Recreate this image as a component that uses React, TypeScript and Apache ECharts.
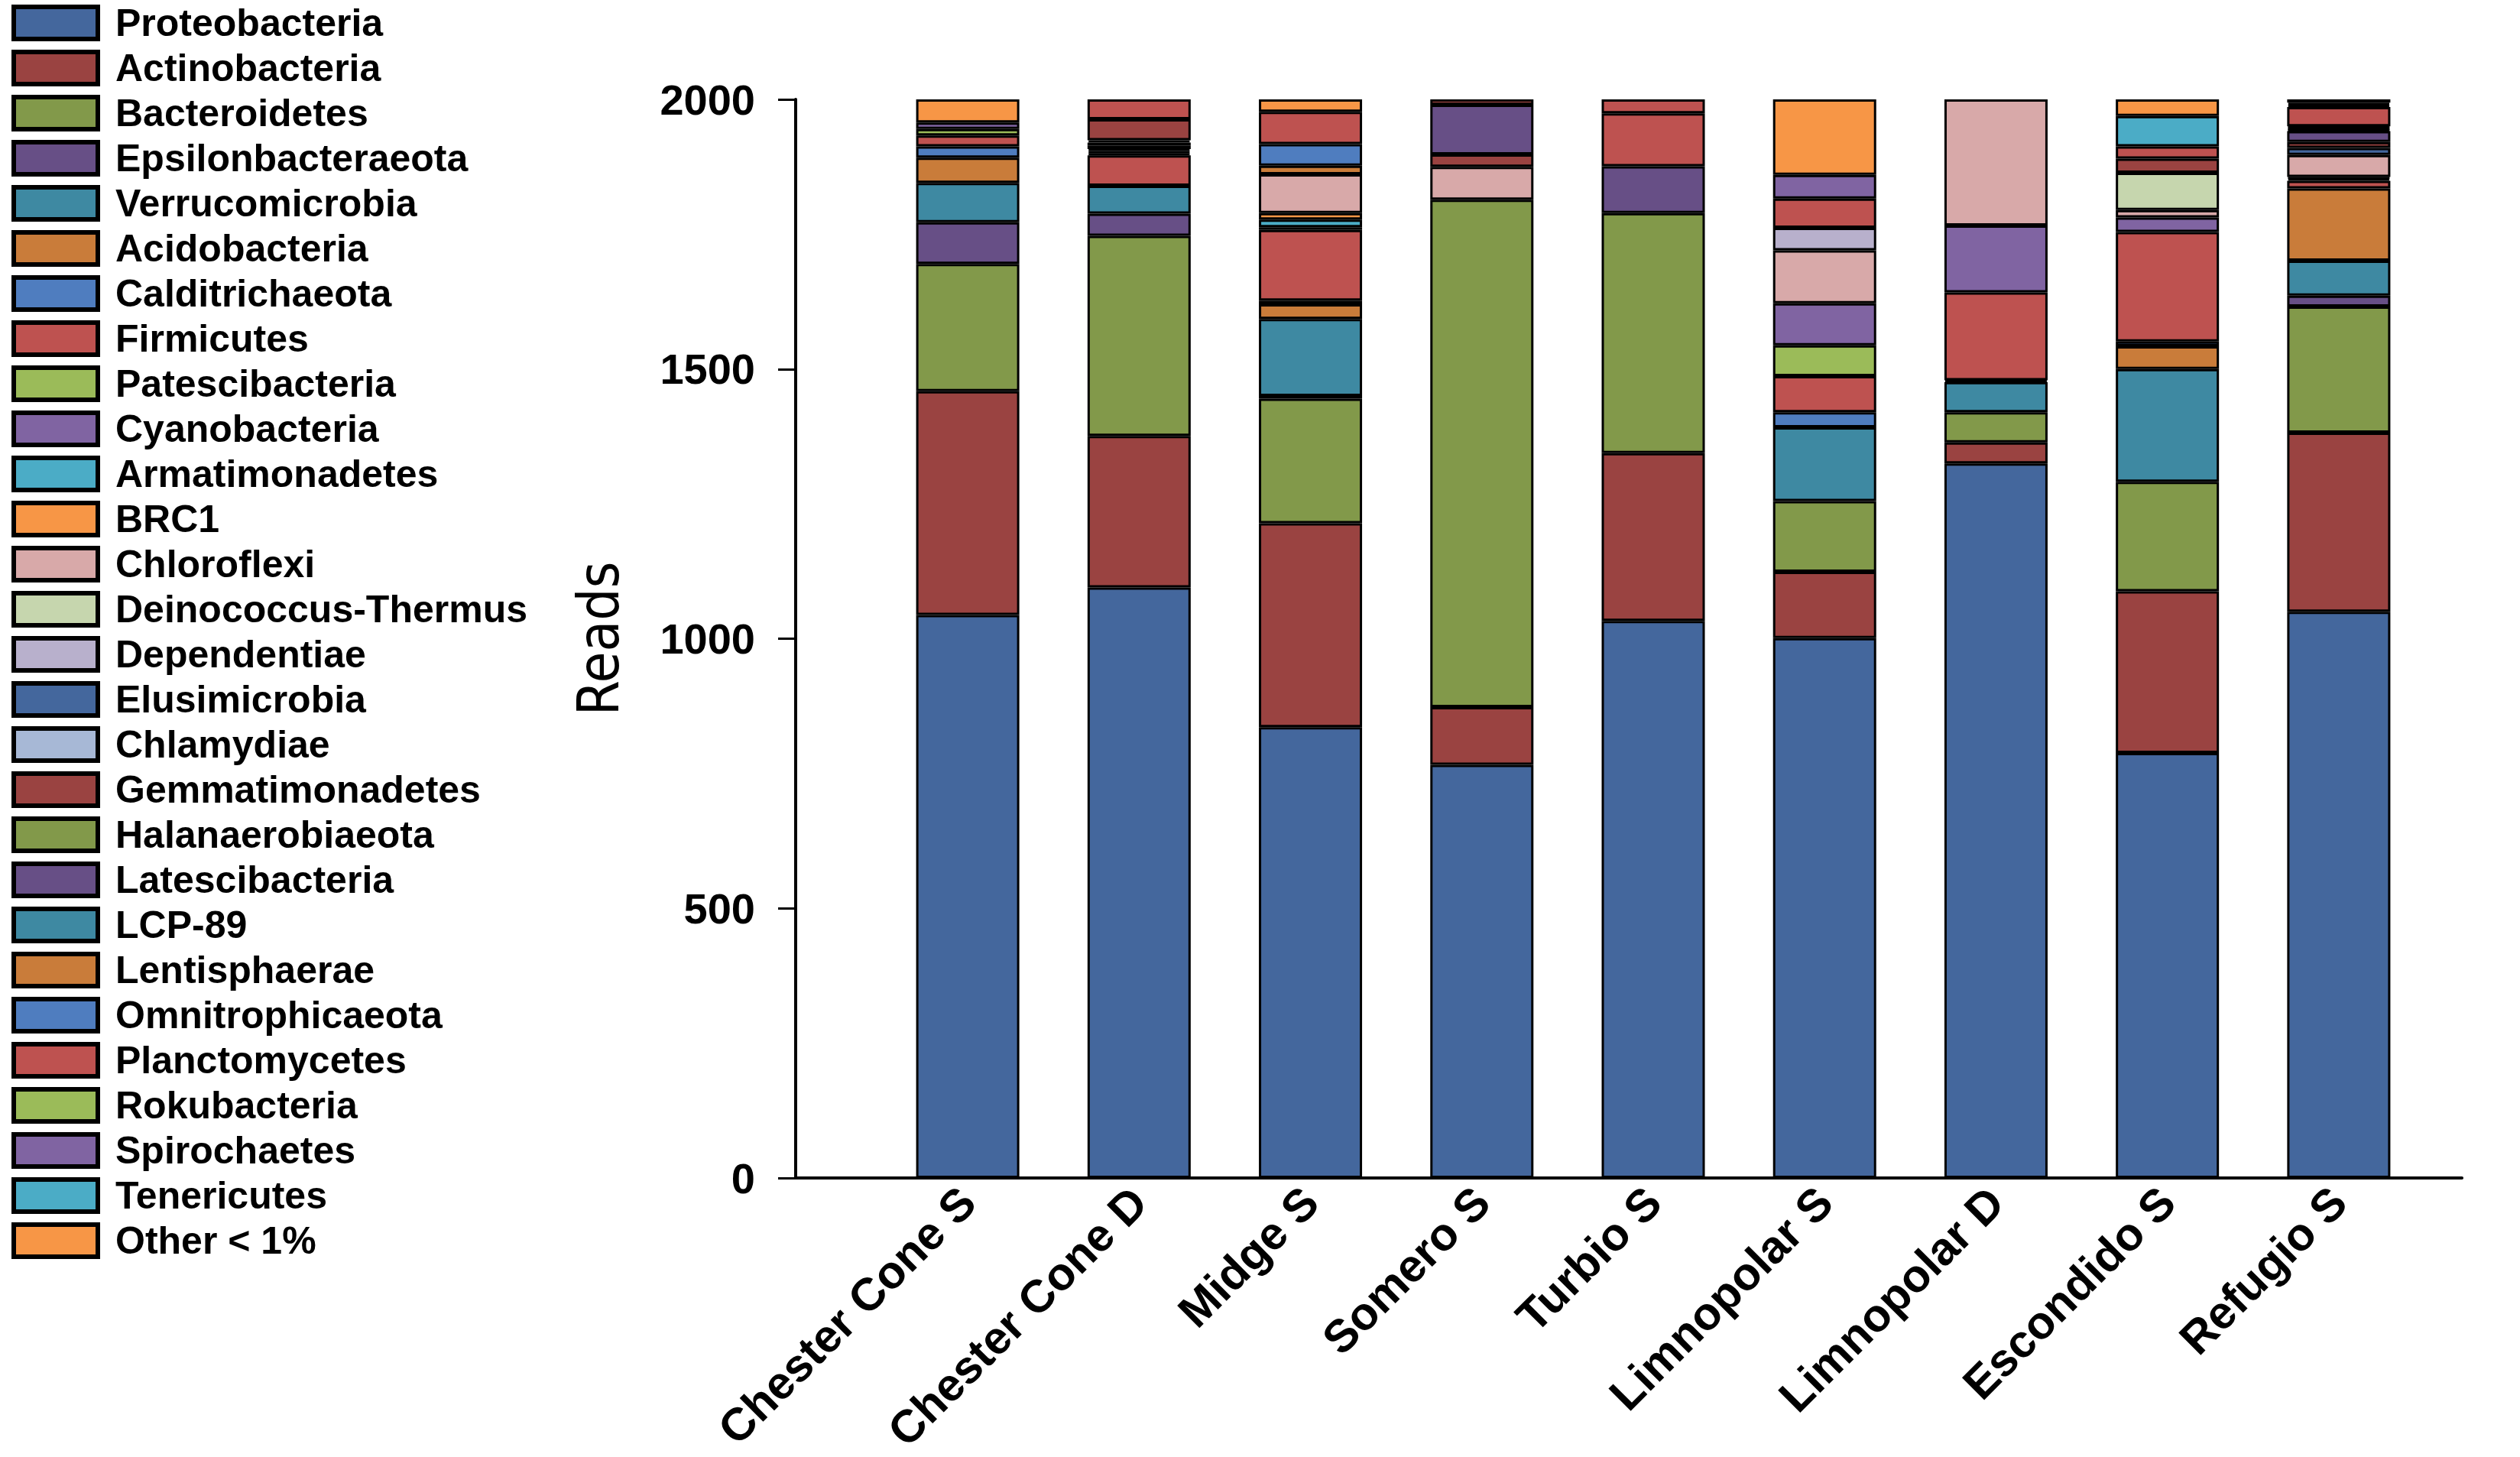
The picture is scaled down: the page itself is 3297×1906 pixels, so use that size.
import React, { useEffect, useRef } from "react";
import * as echarts from "echarts";

const categories = [
  "Chester Cone S",
  "Chester Cone D",
  "Midge S",
  "Somero S",
  "Turbio S",
  "Limnopolar S",
  "Limnopolar D",
  "Escondido S",
  "Refugio S",
];

const seriesNames = [
  "Proteobacteria",
  "Actinobacteria",
  "Bacteroidetes",
  "Epsilonbacteraeota",
  "Verrucomicrobia",
  "Acidobacteria",
  "Calditrichaeota",
  "Firmicutes",
  "Patescibacteria",
  "Cyanobacteria",
  "Armatimonadetes",
  "BRC1",
  "Chloroflexi",
  "Deinococcus-Thermus",
  "Dependentiae",
  "Elusimicrobia",
  "Chlamydiae",
  "Gemmatimonadetes",
  "Halanaerobiaeota",
  "Latescibacteria",
  "LCP-89",
  "Lentisphaerae",
  "Omnitrophicaeota",
  "Planctomycetes",
  "Rokubacteria",
  "Spirochaetes",
  "Tenericutes",
  "Other < 1%",
];

const colors = [
  "#44679D", "#9A4341", "#82994A", "#674F86", "#3E89A2", "#C97C3A", "#4F7DBF",
  "#BE5250", "#9BBB59", "#8064A2", "#4BACC6", "#F79646", "#D8A9A9", "#C6D6AE",
  "#B8B0CC", "#44679D", "#A7B8D6", "#9A4341", "#82994A", "#674F86", "#3E89A2",
  "#C97C3A", "#4F7DBF", "#BE5250", "#9BBB59", "#8064A2", "#4BACC6", "#F79646",
];

// values per sample, in order of categories
const proteobacteria = [1044, 1095, 836, 766, 1033, 1001, 1325, 788, 1050];
const actinobacteria = [415, 281, 378, 107, 311, 123, 39, 300, 332];
const bacteroidetes = [236, 371, 231, 941, 445, 131, 56, 203, 234];
const epsilonbacteraeota = [77, 41, 5, 0, 87, 0, 0, 0, 20];
const verrucomicrobia = [73, 52, 143, 0, 0, 137, 56, 209, 65];
const acidobacteria = [47, 0, 27, 0, 0, 0, 3, 42, 134];
const calditrichaeota = [21, 0, 7, 0, 0, 28, 0, 9, 0];
const firmicutes = [20, 56, 131, 0, 98, 67, 163, 203, 14];
const patescibacteria = [12, 0, 0, 0, 0, 57, 0, 0, 0];
const cyanobacteria = [12, 4, 5, 0, 0, 78, 124, 27, 4];
const armatimonadetes = [0, 4, 14, 0, 0, 0, 0, 0, 0];
const brc1 = [0, 4, 12, 0, 0, 0, 0, 0, 3];
const chloroflexi = [0, 6, 72, 61, 0, 98, 234, 14, 41];
const deinococcusThermus = [0, 6, 0, 0, 0, 0, 0, 69, 0];
const dependentiae = [0, 4, 0, 0, 0, 42, 0, 0, 0];
const elusimicrobia = [0, 0, 0, 0, 0, 0, 0, 0, 13];
const chlamydiae = [0, 0, 0, 0, 0, 0, 0, 0, 0];
const gemmatimonadetes = [0, 39, 0, 23, 0, 0, 0, 26, 11];
const halanaerobiaeota = [0, 0, 0, 0, 0, 0, 0, 0, 0];
const latescibacteria = [0, 0, 0, 92, 0, 0, 0, 0, 20];
const lcp89 = [0, 0, 0, 0, 0, 0, 0, 0, 3];
const lentisphaerae = [0, 0, 16, 0, 0, 0, 0, 0, 3];
const omnitrophicaeota = [0, 0, 40, 0, 0, 0, 0, 0, 3];
const planctomycetes = [0, 37, 60, 10, 26, 54, 0, 23, 36];
const rokubacteria = [0, 0, 0, 0, 0, 0, 0, 0, 0];
const spirochaetes = [0, 0, 0, 0, 0, 44, 0, 0, 4];
const tenericutes = [0, 0, 0, 0, 0, 0, 0, 56, 4];
const other = [43, 0, 23, 0, 0, 140, 0, 31, 6];

const seriesValues = [
  proteobacteria, actinobacteria, bacteroidetes, epsilonbacteraeota, verrucomicrobia,
  acidobacteria, calditrichaeota, firmicutes, patescibacteria, cyanobacteria,
  armatimonadetes, brc1, chloroflexi, deinococcusThermus, dependentiae, elusimicrobia,
  chlamydiae, gemmatimonadetes, halanaerobiaeota, latescibacteria, lcp89, lentisphaerae,
  omnitrophicaeota, planctomycetes, rokubacteria, spirochaetes, tenericutes, other,
];

const yTicks = { min: 0, max: 2000, interval: 500 };

const BOLD_FONT = "'Liberation Sans', Arial, Helvetica, sans-serif";
const NARROW_FONT = "'Liberation Sans Narrow', 'DejaVu Sans Condensed', 'Liberation Sans', sans-serif";

export default function App() {
  const ref = useRef<HTMLDivElement>(null);

  useEffect(() => {
    if (!ref.current) return;
    const chart = echarts.init(ref.current, undefined, { renderer: "svg" });

    const series = seriesNames.map((name, si) => ({
      name,
      type: "bar",
      stack: "total",
      barWidth: 135,
      xAxisIndex: 0,
      yAxisIndex: 0,
      itemStyle: { color: colors[si], borderColor: "#000", borderWidth: 3 },
      emphasis: { disabled: true },
      data: seriesValues[si].map((v) => (v > 0 ? v : "-")),
    }));

    chart.setOption({
      animation: false,
      backgroundColor: "#fff",
      grid: [
        // bars
        { left: 1154, right: 125, top: 130, bottom: 365, containLabel: false },
        // axes frame
        { left: 1041, right: 76, top: 130, bottom: 365, containLabel: false },
      ],
      legend: {
        show: true,
        orient: "vertical",
        left: 10,
        top: 0,
        itemWidth: 110,
        itemHeight: 42,
        itemGap: 9,
        icon: "rect",
        selectedMode: false,
        data: seriesNames,
        itemStyle: { borderColor: "#000", borderWidth: 6 },
        textStyle: {
          fontSize: 50,
          fontWeight: "bold",
          fontFamily: BOLD_FONT,
          color: "#000",
          padding: [0, 0, 0, 18],
        },
      },
      xAxis: [
        {
          type: "category",
          gridIndex: 0,
          data: categories,
          axisLine: { show: false },
          axisTick: { show: false },
          splitLine: { show: false },
          axisLabel: {
            interval: 0,
            rotate: 45,
            fontSize: 60,
            fontWeight: "bold",
            fontFamily: BOLD_FONT,
            color: "#000",
            margin: 22,
          },
        },
        {
          type: "value",
          gridIndex: 1,
          min: 0,
          max: 1,
          axisLine: { show: true, onZero: false, lineStyle: { color: "#000", width: 4 } },
          axisTick: { show: false },
          axisLabel: { show: false },
          splitLine: { show: false },
        },
      ],
      yAxis: [
        {
          type: "value",
          gridIndex: 0,
          min: yTicks.min,
          max: yTicks.max,
          interval: yTicks.interval,
          show: false,
          splitLine: { show: false },
        },
        {
          type: "value",
          gridIndex: 1,
          min: yTicks.min,
          max: yTicks.max,
          interval: yTicks.interval,
          axisLine: { show: true, onZero: false, lineStyle: { color: "#000", width: 4 } },
          axisTick: { show: true, length: 23, lineStyle: { color: "#000", width: 3 } },
          splitLine: { show: false },
          axisLabel: {
            fontSize: 56,
            fontWeight: "bold",
            fontFamily: BOLD_FONT,
            color: "#000",
            margin: 53,
            formatter: (v: number) => String(v),
          },
          name: "Reads",
          nameLocation: "middle",
          nameRotate: 90,
          nameGap: 221,
          nameTextStyle: { fontSize: 74, fontFamily: NARROW_FONT, color: "#000" },
        },
      ],
      series,
    });

    return () => chart.dispose();
  }, []);

  return (
    <div
      ref={ref}
      style={{ position: "fixed", left: 0, top: 0, width: 3297, height: 1906, background: "#fff" }}
    />
  );
}
